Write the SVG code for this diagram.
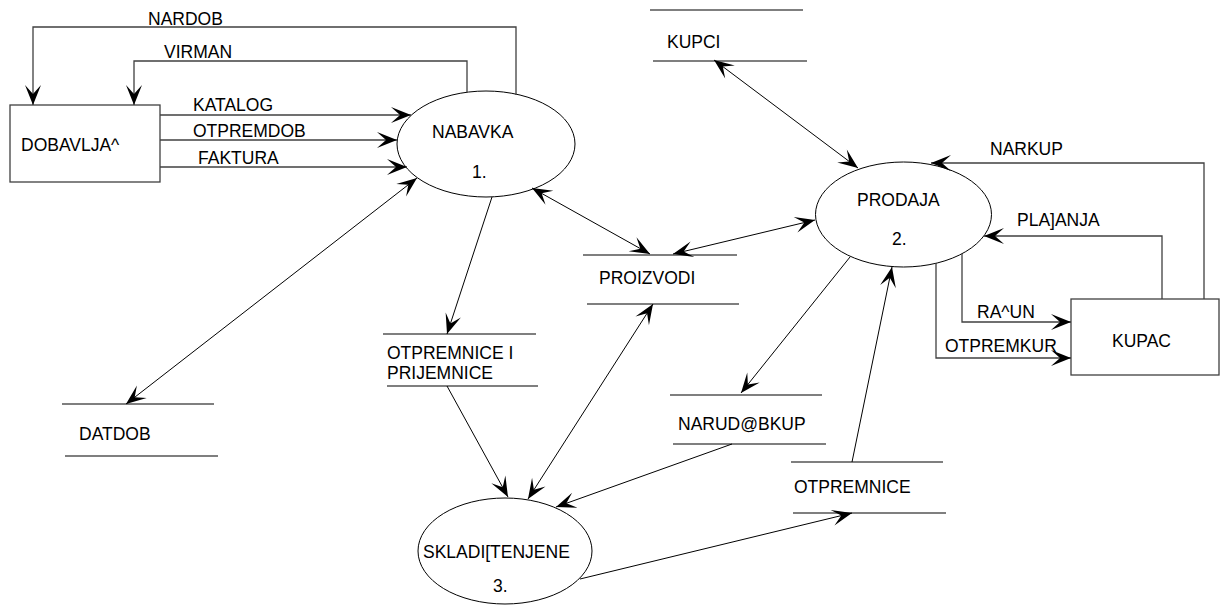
<svg xmlns="http://www.w3.org/2000/svg" width="1220" height="608" viewBox="0 0 1220 608">
  <style>
    text { font-family: "Liberation Sans", Arial, sans-serif; font-size: 17.5px; fill: #000; }
    .box { fill: #fff; stroke: #404040; stroke-width: 1.3; }
    .proc { fill: #fff; stroke: #000; stroke-width: 1; }
    .store { stroke: #555; stroke-width: 1.5; fill: none; }
    .flow { stroke: #000; stroke-width: 1; fill: none; }
    .elbow { stroke: #404040; stroke-width: 1.3; fill: none; }
    .one { marker-end: url(#arr); }
    .two { marker-start: url(#arr); marker-end: url(#arr); }
  </style>
  <defs>
    <marker id="arr" viewBox="-21 -9 22 18" markerWidth="22" markerHeight="18" refX="0" refY="0" orient="auto-start-reverse" markerUnits="userSpaceOnUse">
      <path d="M0,0 L-20,-8 L-11,0 L-20,8 Z" fill="#000"/>
    </marker>
  </defs>
  <rect width="1220" height="608" fill="#fff"/>

  <!-- external entities -->
  <g id="dobavljac">
    <rect class="box" x="10" y="105" width="150" height="77"/>
    <text x="21" y="151">DOBAVLJA^</text>
  </g>
  <g id="kupac">
    <rect class="box" x="1071" y="299" width="148" height="76"/>
    <text x="1112" y="347">KUPAC</text>
  </g>

  <!-- processes -->
  <g id="nabavka">
    <ellipse class="proc" cx="486" cy="144" rx="89" ry="53"/>
    <text x="432" y="138">NABAVKA</text>
    <text x="472" y="178">1.</text>
  </g>
  <g id="prodaja">
    <ellipse class="proc" cx="903.5" cy="214.5" rx="88" ry="52.5"/>
    <text x="857" y="206">PRODAJA</text>
    <text x="892" y="245">2.</text>
  </g>
  <g id="skladistenje">
    <ellipse class="proc" cx="505" cy="551" rx="87" ry="53"/>
    <text x="423" y="558">SKLADI[TENJENE</text>
    <text x="493" y="592">3.</text>
  </g>

  <!-- data stores -->
  <g id="kupci">
    <line class="store" x1="650" y1="10" x2="803" y2="10"/>
    <line class="store" x1="653" y1="61" x2="807" y2="61"/>
    <text x="667" y="48">KUPCI</text>
  </g>
  <g id="datdob">
    <line class="store" x1="62" y1="404" x2="214" y2="404"/>
    <line class="store" x1="65" y1="456" x2="218" y2="456"/>
    <text x="79" y="440">DATDOB</text>
  </g>
  <g id="proizvodi">
    <line class="store" x1="583" y1="255" x2="737" y2="255"/>
    <line class="store" x1="587" y1="304" x2="739" y2="304"/>
    <text x="599" y="284">PROIZVODI</text>
  </g>
  <g id="otpremnice-prijemnice">
    <line class="store" x1="383" y1="334" x2="536" y2="334"/>
    <line class="store" x1="387" y1="386" x2="538" y2="386"/>
    <text x="387" y="359">OTPREMNICE I</text>
    <text x="387" y="379">PRIJEMNICE</text>
  </g>
  <g id="narudzbkup">
    <line class="store" x1="670" y1="395" x2="822" y2="395"/>
    <line class="store" x1="673" y1="444" x2="826" y2="444"/>
    <text x="678" y="430">NARUD@BKUP</text>
  </g>
  <g id="otpremnice">
    <line class="store" x1="791" y1="462" x2="943" y2="462"/>
    <line class="store" x1="793" y1="513" x2="946" y2="513"/>
    <text x="794" y="493">OTPREMNICE</text>
  </g>

  <!-- data flows -->
  <g id="connectors">
    <polyline class="elbow one" points="516,95 516,27 33,27 33,105"/>
    <polyline class="elbow one" points="467,92 467,61 134,61 134,105"/>
    <line class="elbow one" x1="160" y1="115" x2="411" y2="115"/>
    <line class="elbow one" x1="160" y1="140" x2="397" y2="140"/>
    <line class="elbow one" x1="160" y1="167" x2="407" y2="167"/>
    <line class="flow two" x1="126" y1="404" x2="417" y2="178"/>
    <line class="flow two" x1="532" y1="188" x2="650" y2="254"/>
    <line class="flow two" x1="673" y1="254" x2="815" y2="220"/>
    <line class="flow two" x1="714" y1="60" x2="858" y2="168"/>
    <line class="flow one" x1="492" y1="197" x2="447" y2="334"/>
    <line class="flow one" x1="447" y1="386" x2="508" y2="497"/>
    <line class="flow two" x1="653" y1="304" x2="528" y2="499"/>
    <line class="flow one" x1="732" y1="444" x2="556" y2="507"/>
    <line class="flow one" x1="850" y1="257" x2="741" y2="393"/>
    <line class="flow one" x1="852" y1="462" x2="892" y2="267"/>
    <line class="flow one" x1="580" y1="579" x2="852" y2="513"/>
    <polyline class="elbow one" points="1204,299 1204,163 931,163"/>
    <polyline class="elbow one" points="1162,299 1162,236 984,236"/>
    <polyline class="elbow one" points="962,254 962,322 1071,322"/>
    <polyline class="elbow one" points="936,263 936,358 1071,358"/>
  </g>

  <!-- flow labels -->
  <g id="labels">
    <text x="148" y="25">NARDOB</text>
    <text x="164" y="58">VIRMAN</text>
    <text x="193" y="111">KATALOG</text>
    <text x="193" y="137">OTPREMDOB</text>
    <text x="198" y="164">FAKTURA</text>
    <text x="990" y="155">NARKUP</text>
    <text x="1017" y="226">PLA]ANJA</text>
    <text x="977" y="318">RA^UN</text>
    <text x="945" y="352">OTPREMKUR</text>
  </g>
</svg>
